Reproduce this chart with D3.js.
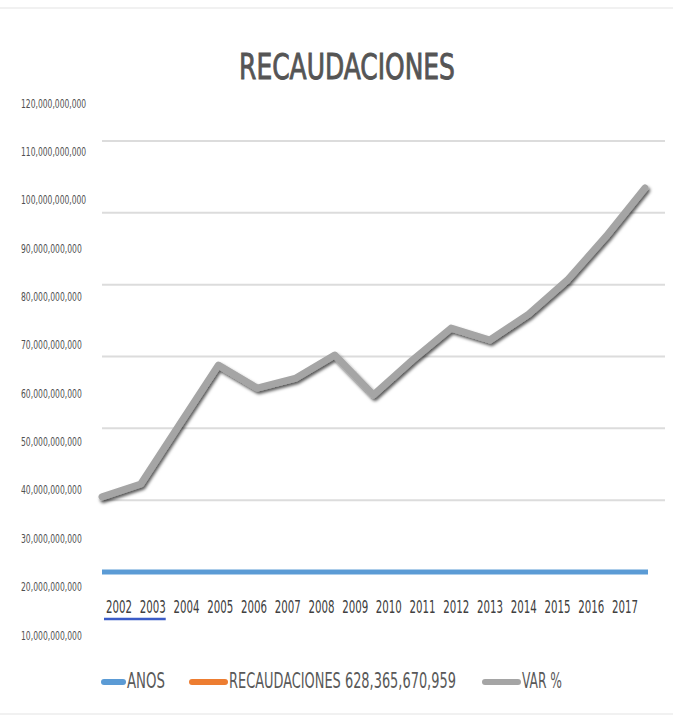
<!DOCTYPE html>
<html>
<head>
<meta charset="utf-8">
<script src="https://cdn.jsdelivr.net/npm/d3@7"></script>
<style>
  html, body { margin: 0; padding: 0; background: #fff; }
  svg { display: block; }
  text { font-family: "Liberation Sans Narrow", "DejaVu Sans Condensed", "Liberation Sans", sans-serif; fill: #595959; }
</style>
</head>
<body>
<svg id="chart" width="673" height="721"></svg>
<script>
// Category labels along the bottom
const years = [2002, 2003, 2004, 2005, 2006, 2007, 2008, 2009, 2010, 2011, 2012, 2013, 2014, 2015, 2016, 2017];

// Series: ANOS (the year values themselves), VAR % (drawn grey line)
const anosValues = years.slice();
const varValues = [20.9e9, 24.5e9, 41.1e9, 57.6e9, 51.2e9, 54.0e9, 60.4e9, 49.3e9, 59.0e9, 67.9e9, 64.6e9, 71.8e9, 81.3e9, 93.5e9, 106.9e9];

// Gridline values and left-hand tick labels
const gridValues = [20e9, 40e9, 60e9, 80e9, 100e9, 120e9];
const labelTicks = [10e9, 20e9, 30e9, 40e9, 50e9, 60e9, 70e9, 80e9, 90e9, 100e9, 110e9, 120e9];

// Legend entries
const legendNames = ["ANOS", "RECAUDACIONES 628,365,670,959", "VAR %"];
const legendColors = ["#5b9bd5", "#ed7d31", "#a5a5a5"];

const svg = d3.select("#chart");
const fmt = d3.format(",");

// Squeeze a text horizontally to a target width, keeping its anchor point
function fitWidth(sel, widthOf) {
  sel.each(function(d, i) {
    const t = d3.select(this);
    const x = +t.attr("x"), yy = +t.attr("y");
    const natural = this.getComputedTextLength();
    const s = natural > 0 ? widthOf(d, i) / natural : 1;
    t.attr("x", 0).attr("y", 0)
     .attr("transform", `translate(${x},${yy}) scale(${s},1)`);
  });
}

// Chart frame
svg.append("rect")
  .attr("x", -1).attr("y", 8).attr("width", 675).attr("height", 706)
  .attr("fill", "none").attr("stroke", "#e3e3e3").attr("stroke-width", 1);

// Scales
const y = d3.scaleLinear().domain([0, 120e9]).range([572, 141]);
const labelY = d3.scaleLinear().domain([10e9, 120e9]).range([635, 103]);
const labelX = d3.scalePoint().domain(years).range([119, 625]);
const blueX = d3.scalePoint().domain(years).range([102, 648]);
const lineX = d3.scalePoint().domain(d3.range(varValues.length)).range([102, 645]);

// Shadow under the grey line
const defs = svg.append("defs");
const f = defs.append("filter").attr("id", "shadow")
  .attr("x", "-10%").attr("y", "-10%").attr("width", "130%").attr("height", "130%");
f.append("feDropShadow")
  .attr("dx", 1.5).attr("dy", 2.5).attr("stdDeviation", 1.6)
  .attr("flood-color", "#000").attr("flood-opacity", 0.65);

// Title
svg.append("text")
  .attr("x", 347).attr("y", 79)
  .attr("text-anchor", "middle")
  .attr("font-size", 36)
  .style("fill", "#555")
  .style("stroke", "#555").style("stroke-width", 0.9)
  .text("RECAUDACIONES")
  .call(fitWidth, () => 216);

// Horizontal gridlines
svg.append("g").selectAll("line").data(gridValues).join("line")
  .attr("x1", 102).attr("x2", 665)
  .attr("y1", d => y(d)).attr("y2", d => y(d))
  .attr("stroke", "#dcdcdc").attr("stroke-width", 2);

// Left tick labels
svg.append("g").selectAll("text").data(labelTicks).join("text")
  .attr("x", 21).attr("y", d => labelY(d) + 4.5)
  .attr("text-anchor", "start")
  .attr("font-size", 13)
  .style("fill", "#505050")
  .text(d => fmt(d))
  .call(fitWidth, d => fmt(d).length * 4.35);

// Year labels along the bottom
svg.append("g").selectAll("text").data(years).join("text")
  .attr("x", d => labelX(d)).attr("y", 613)
  .attr("text-anchor", "middle")
  .attr("font-size", 18)
  .style("fill", "#404040")
  .text(d => d)
  .call(fitWidth, () => 26);

// Underline beneath the first two years
svg.append("line")
  .attr("x1", labelX(2002) - 15).attr("x2", labelX(2003) + 13)
  .attr("y1", 619).attr("y2", 619)
  .attr("stroke", "#3a5bc7").attr("stroke-width", 2.5);

// ANOS series
svg.append("path")
  .datum(anosValues)
  .attr("fill", "none")
  .attr("stroke", legendColors[0]).attr("stroke-width", 5)
  .attr("d", d3.line().x((d, i) => blueX(years[i])).y(d => y(d)));

// VAR % series
svg.append("path")
  .datum(varValues)
  .attr("fill", "none")
  .attr("stroke", legendColors[2]).attr("stroke-width", 7)
  .attr("stroke-linejoin", "round").attr("stroke-linecap", "round")
  .attr("filter", "url(#shadow)")
  .attr("d", d3.line().x((d, i) => lineX(i)).y(d => y(d)));

// Legend
const legendX = [102, 190, 483];
const legendTextLen = [38, 227, 40];
const lg = svg.append("g");
legendNames.forEach((name, i) => {
  const swatchW = i === 0 ? 23 : 37;
  lg.append("line")
    .attr("x1", legendX[i] + 2).attr("x2", legendX[i] + swatchW - 2)
    .attr("y1", 682).attr("y2", 682)
    .attr("stroke", legendColors[i]).attr("stroke-width", 6)
    .attr("stroke-linecap", "round");
  lg.append("text")
    .attr("x", legendX[i] + swatchW + 2).attr("y", 688)
    .attr("font-size", 21)
    .style("fill", "#595959")
    .text(name)
    .call(fitWidth, () => legendTextLen[i]);
});
</script>
</body>
</html>
